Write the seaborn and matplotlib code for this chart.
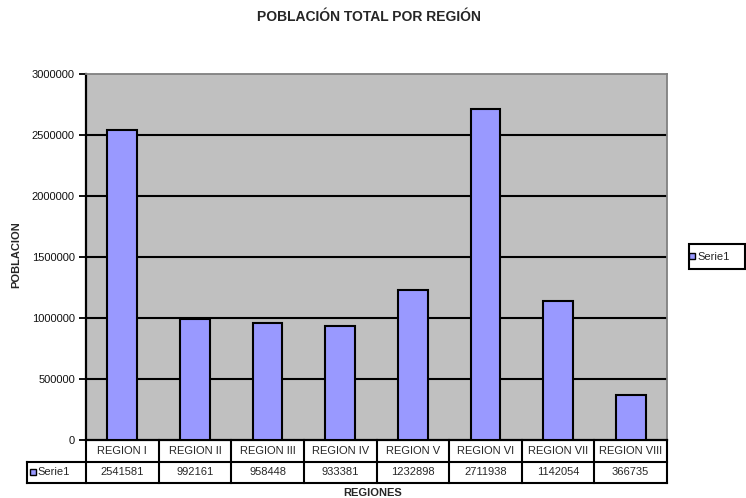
import matplotlib
matplotlib.use("Agg")
import matplotlib.pyplot as plt
import seaborn as sns
import pandas as pd
from matplotlib.patches import Rectangle
from matplotlib.lines import Line2D

regions = ["REGION I", "REGION II", "REGION III", "REGION IV",
           "REGION V", "REGION VI", "REGION VII", "REGION VIII"]
poblacion = [2541581, 992161, 958448, 933381, 1232898, 2711938, 1142054, 366735]
yticks = [0, 500000, 1000000, 1500000, 2000000, 2500000, 3000000]
series_name = "Serie1"

sns.set_style("white")
plt.rcParams['font.family'] = ['Liberation Sans', 'DejaVu Sans']

BAR = "#9999FF"
BG = "#C0C0C0"
FS = 8

fig = plt.figure(figsize=(7.46, 4.98), dpi=100)
W, H = 746, 498
x0, x1, ytop, ybot = 86, 667, 74, 440
ax = fig.add_axes([x0 / W, (H - ybot) / H, (x1 - x0) / W, (ybot - ytop) / H])
ax.set_facecolor(BG)

df = pd.DataFrame({"region": regions, "pob": poblacion})
sns.barplot(data=df, x="region", y="pob", color=BAR, saturation=1,
            edgecolor="black", linewidth=1.5, width=0.41, ax=ax, zorder=3)

n = len(regions)
ax.set_ylim(0, 3000000)
ax.set_xlim(-0.5, n - 0.5)
ax.set_yticks(yticks)
ax.set_yticklabels([str(v) for v in yticks], fontsize=FS, color="#111111")
ax.set_xticks([])
ax.set_xlabel("")
ax.set_ylabel("")
for v in yticks[1:-1]:
    ax.axhline(v, color="black", linewidth=1.5, zorder=1)
ax.tick_params(axis="y", direction="out", length=5, width=1.3, color="black", pad=3, left=True)
for s in ["top", "right"]:
    ax.spines[s].set_color("#808080")
    ax.spines[s].set_linewidth(1.3)
ax.spines["left"].set_color("black")
ax.spines["left"].set_linewidth(1.6)
ax.spines["bottom"].set_color("black")
ax.spines["bottom"].set_linewidth(1.6)

# data table drawn under the axis
tr = ax.get_xaxis_transform()
rh = 21.5 / (ybot - ytop)
cat_px = (x1 - x0) / n
xl = -0.5 - (x0 - 27) / cat_px
lkw = dict(color="black", linewidth=1.5, transform=tr, clip_on=False,
           solid_capstyle="projecting")
for i in range(n + 1):
    ax.plot([i - 0.5, i - 0.5], [0, -2 * rh], **lkw)
ax.plot([xl, n - 0.5], [-rh, -rh], **lkw)
ax.plot([xl, n - 0.5], [-2 * rh, -2 * rh], **lkw)
ax.plot([xl, xl], [-rh, -2 * rh], **lkw)
for i, (r, v) in enumerate(zip(regions, poblacion)):
    ax.text(i, -0.5 * rh, r, transform=tr, ha="center", va="center", fontsize=FS, clip_on=False)
    ax.text(i, -1.5 * rh, str(v), transform=tr, ha="center", va="center", fontsize=FS, clip_on=False)
ax.plot([xl + 6 / cat_px], [-1.5 * rh], marker="s", markersize=4.5,
        markerfacecolor=BAR, markeredgecolor="black", markeredgewidth=1,
        transform=tr, clip_on=False, zorder=10)
ax.text(xl + 10 / cat_px, -1.5 * rh, series_name, transform=tr, ha="left", va="center",
        fontsize=FS, clip_on=False)

fig.text(369 / W, 1 - 17 / H, "POBLACIÓN TOTAL POR REGIÓN", ha="center", va="center",
         fontsize=10, fontweight="bold")
fig.text(373 / W, 1 - 493 / H, "REGIONES", ha="center", va="center",
         fontsize=FS, fontweight="bold")
fig.text(16 / W, 1 - 255 / H, "POBLACION", ha="center", va="center",
         fontsize=FS, fontweight="bold", rotation=90)

# legend
fig.patches.append(Rectangle((689 / W, 1 - 269 / H), 56 / W, 25 / H, transform=fig.transFigure,
                             facecolor="white", edgecolor="black", linewidth=1.5))
handle = Line2D([], [], linestyle="none", marker="s", markersize=5,
                markerfacecolor=BAR, markeredgecolor="black", markeredgewidth=1)
leg = fig.legend(handles=[handle], labels=[series_name],
                 loc="center left", bbox_to_anchor=(689 / W, 1 - 257 / H),
                 fontsize=FS, frameon=False, handlelength=0.6,
                 handletextpad=0.2, borderpad=0.0, borderaxespad=0)

fig.savefig("out.png", dpi=100)
